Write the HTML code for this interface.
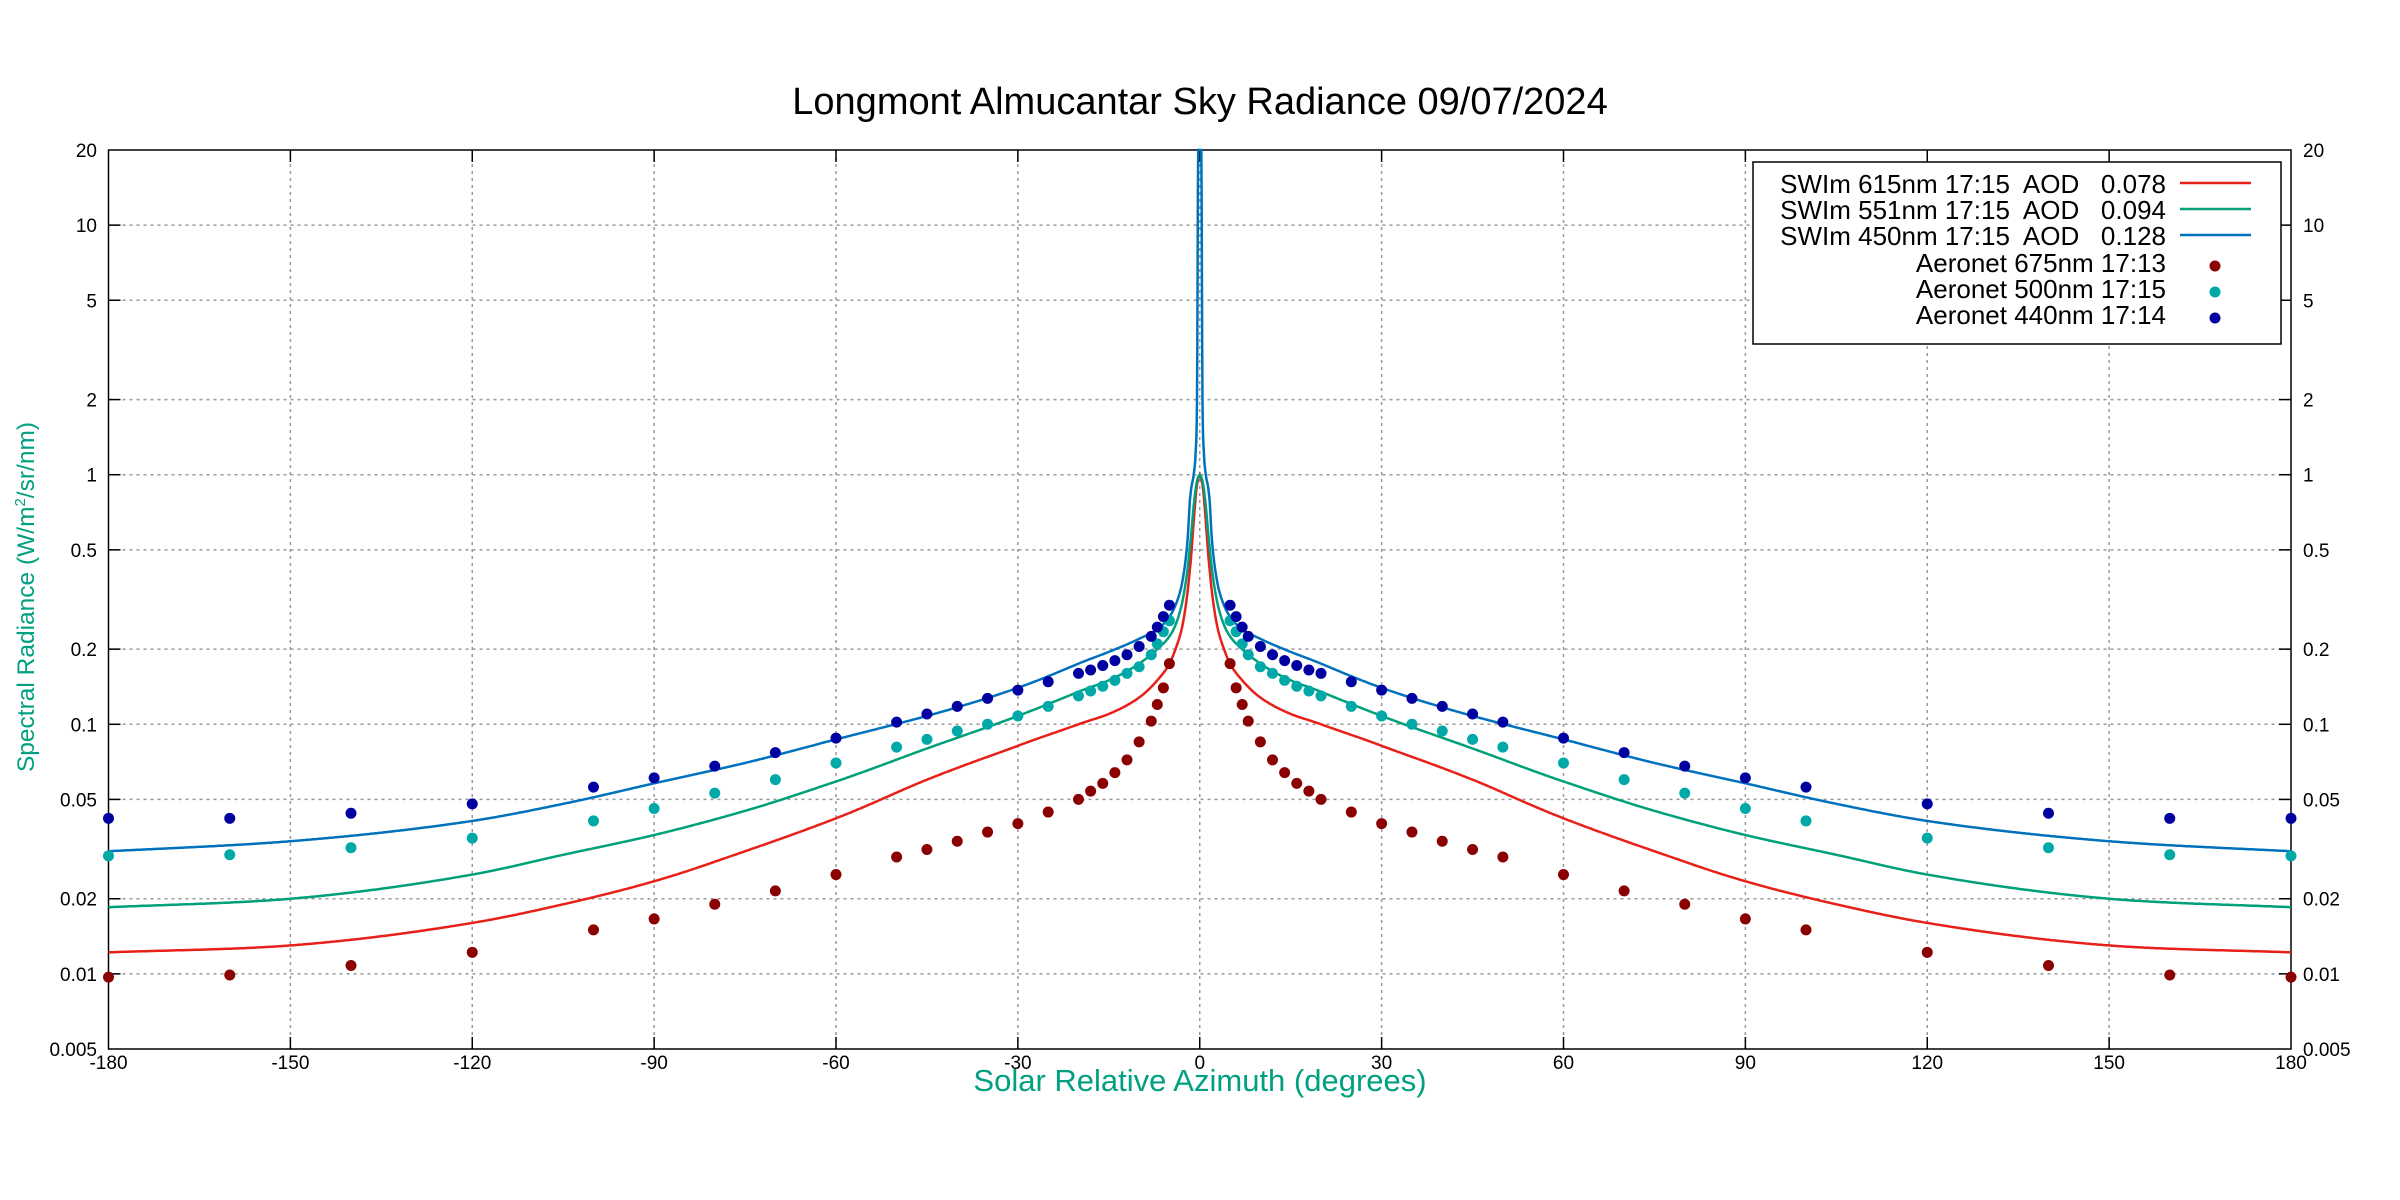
<!DOCTYPE html>
<html><head><meta charset="utf-8"><style>body{margin:0;background:#fff}svg{display:block}</style></head>
<body>
<svg id="s" width="2400" height="1200" xmlns="http://www.w3.org/2000/svg" font-family="Liberation Sans, sans-serif"></svg>
<script>
const s=document.getElementById('s');
const L=108.5,R=2291,T=150,B=1049,cx=(L+R)/2;
const X=a=>cx+a*(R-L)/360;
const dec=(B-T)/Math.log10(4000);
const Y=v=>T+Math.log10(20/v)*dec;
let h='';
h+=`<text x="1200" y="114" font-size="38" text-anchor="middle">Longmont Almucantar Sky Radiance 09/07/2024</text>`;
for(let a=-150;a<=150;a+=30){h+=`<line x1="${X(a)}" y1="${T}" x2="${X(a)}" y2="${B}" stroke="#999" stroke-width="1.5" stroke-dasharray="3,4"/>`;
h+=`<line x1="${X(a)}" y1="${B}" x2="${X(a)}" y2="${B-12}" stroke="#000" stroke-width="1.5"/><line x1="${X(a)}" y1="${T}" x2="${X(a)}" y2="${T+12}" stroke="#000" stroke-width="1.5"/>`;}
for(let a=-180;a<=180;a+=30)h+=`<text x="${X(a)}" y="1069" font-size="19" text-anchor="middle">${a}</text>`;
const yt=[0.005,0.01,0.02,0.05,0.1,0.2,0.5,1,2,5,10,20];
yt.forEach(v=>{const y=Y(v);if(v>0.005&&v<20){h+=`<line x1="${L}" y1="${y}" x2="${R}" y2="${y}" stroke="#999" stroke-width="1.5" stroke-dasharray="3,4"/><line x1="${L}" y1="${y}" x2="${L+12}" y2="${y}" stroke="#000" stroke-width="1.5"/><line x1="${R}" y1="${y}" x2="${R-12}" y2="${y}" stroke="#000" stroke-width="1.5"/>`;}
h+=`<text x="97" y="${y+7}" font-size="19" text-anchor="end">${v}</text><text x="2303" y="${y+7}" font-size="19">${v}</text>`;});
h+=`<rect x="${L}" y="${T}" width="${R-L}" height="${B-T}" fill="none" stroke="#000" stroke-width="1.5"/>`;
h+=`<text x="1200" y="1091" font-size="31" fill="#00a080" text-anchor="middle">Solar Relative Azimuth (degrees)</text>`;
h+=`<text transform="translate(34,597) rotate(-90)" font-size="24.5" fill="#00a080" text-anchor="middle">Spectral Radiance (W/m<tspan dy="-9" font-size="15">2</tspan><tspan dy="9">/sr/nm)</tspan></text>`;
function curve(p,col){
const g=a=>Math.log(a+0.15);const xs=p.map(q=>g(q[0])),ys=p.map(q=>Math.log(q[1]));const n=p.length;
const d=[],m=[];for(let i=0;i<n-1;i++)d.push((ys[i+1]-ys[i])/(xs[i+1]-xs[i]));
m[0]=d[0];m[n-1]=d[n-2];for(let i=1;i<n-1;i++){m[i]=(d[i-1]*d[i]<=0)?0:(d[i-1]+d[i])/2;}
for(let i=0;i<n-1;i++){if(d[i]==0){m[i]=m[i+1]=0;continue;}const a=m[i]/d[i],b=m[i+1]/d[i],t=a*a+b*b;if(t>9){const k=3/Math.sqrt(t);m[i]=k*a*d[i];m[i+1]=k*b*d[i];}}
const f=a=>{const u=g(Math.abs(a));for(let i=0;i<n-1;i++){if(u<=xs[i+1]){const hh=xs[i+1]-xs[i],t=(u-xs[i])/hh,t2=t*t,t3=t2*t;
return Math.exp((2*t3-3*t2+1)*ys[i]+(t3-2*t2+t)*hh*m[i]+(-2*t3+3*t2)*ys[i+1]+(t3-t2)*hh*m[i+1]);}}return p[n-1][1];};
const pts=[];for(let k=-3600;k<=3600;k+=(Math.abs(k)<100?1:5)){const a=k/20;pts.push(X(a).toFixed(1)+','+Math.max(T,Y(f(a))).toFixed(1));}
h+=`<polyline points="${pts.join(' ')}" fill="none" stroke="${col}" stroke-width="2.5"/>`;}
curve([[0,1.0],[0.3,0.95],[0.6,0.85],[1,0.65],[1.5,0.45],[2,0.34],[3,0.24],[4,0.2],[5,0.175],[7,0.15],[10,0.128],[15,0.11],[20,0.1],[30,0.082],[45,0.06],[60,0.042],[75,0.031],[90,0.0235],[105,0.019],[120,0.016],[150,0.013],[180,0.0122]],'#e8201a');
curve([[0,1.0],[0.3,0.97],[0.6,0.9],[1,0.75],[1.5,0.55],[2,0.42],[3,0.3],[4,0.25],[5,0.225],[7,0.2],[10,0.175],[15,0.15],[20,0.135],[30,0.108],[45,0.08],[60,0.059],[75,0.045],[90,0.036],[105,0.03],[120,0.025],[150,0.02],[180,0.0185]],'#00a07a');
curve([[0,20],[0.25,20],[0.45,2],[0.7,1.2],[1,1.0],[1.6,0.8],[2,0.55],[3,0.36],[4,0.3],[5,0.27],[7,0.24],[10,0.22],[15,0.195],[20,0.175],[30,0.14],[45,0.108],[60,0.087],[75,0.07],[90,0.058],[105,0.048],[120,0.041],[150,0.034],[180,0.031]],'#0072bd');
const ang=[5,6,7,8,10,12,14,16,18,20,25,30,35,40,45,50,60,70,80,90,100,120,140,160,180];
const red=[0.175,0.14,0.12,0.103,0.085,0.072,0.064,0.058,0.054,0.05,0.0445,0.04,0.037,0.034,0.0315,0.0294,0.025,0.0215,0.019,0.0166,0.015,0.0122,0.0108,0.0099,0.0097];
const teal=[0.26,0.235,0.21,0.19,0.17,0.16,0.15,0.142,0.136,0.13,0.118,0.108,0.1,0.094,0.087,0.081,0.07,0.06,0.053,0.046,0.041,0.035,0.032,0.03,0.0297];
const blue=[0.30,0.27,0.245,0.225,0.205,0.19,0.18,0.172,0.165,0.16,0.148,0.137,0.127,0.118,0.11,0.102,0.088,0.077,0.068,0.061,0.056,0.048,0.044,0.042,0.042];
function dots(v,c){ang.forEach((a,i)=>{[a,-a].forEach(b=>{h+=`<circle cx="${X(b)}" cy="${Y(v[i])}" r="5.5" fill="${c}"/>`;});});}
dots(red,'#8b0000');dots(teal,'#00a8a8');dots(blue,'#0000a0');
h+=`<rect x="1753" y="162" width="528" height="182" fill="#fff" stroke="#000" stroke-width="1.5"/>`;
const lab=['SWIm 615nm 17:15  AOD   0.078','SWIm 551nm 17:15  AOD   0.094','SWIm 450nm 17:15  AOD   0.128','Aeronet 675nm 17:13','Aeronet 500nm 17:15','Aeronet 440nm 17:14'];
const ry=[183,209,235,262,288,314];const lc=['#e8201a','#00a07a','#0072bd'];const dc=['#8b0000','#00a8a8','#0000a0'];
lab.forEach((t,i)=>{h+=`<text x="2166" y="${ry[i]+10}" font-size="26" text-anchor="end" xml:space="preserve">${t}</text>`;
if(i<3)h+=`<line x1="2180" y1="${ry[i]}" x2="2251" y2="${ry[i]}" stroke="${lc[i]}" stroke-width="2.5"/>`;else h+=`<circle cx="2215" cy="${ry[i]+4}" r="5.5" fill="${dc[i-3]}"/>`;});
s.innerHTML=h;
</script>
</body></html>
